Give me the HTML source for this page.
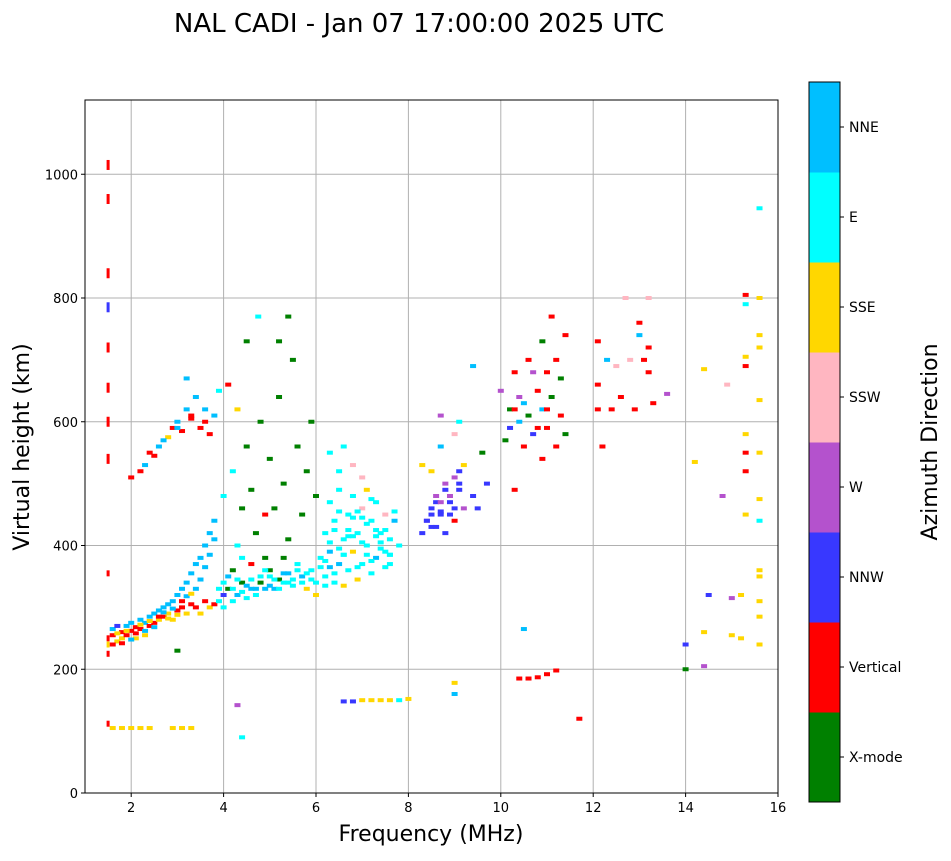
<!DOCTYPE html>
<html><head><meta charset="utf-8"><style>
body{margin:0;background:#fff;font-family:"Liberation Sans",sans-serif}
svg text{font-family:"DejaVu Sans","Liberation Sans",sans-serif}
</style></head><body>
<svg id="chart" width="951" height="856" xmlns="http://www.w3.org/2000/svg">
<text x="419" y="32" font-size="26" text-anchor="middle">NAL CADI - Jan 07 17:00:00 2025 UTC</text>
<g id="grid"></g>
<g id="marks"></g>
<rect x="85" y="100" width="693" height="693" fill="none" stroke="#000" stroke-width="1"/>
<g id="axes"></g>
<text x="431" y="841" font-size="22" text-anchor="middle">Frequency (MHz)</text>
<text transform="translate(29,447) rotate(-90)" font-size="22" text-anchor="middle">Virtual height (km)</text>
<g id="cbar"></g>
<text transform="translate(937,442) rotate(-90)" font-size="22" text-anchor="middle">Azimuth Direction</text>
</svg>
<script>
const xTicks=[2,4,6,8,10,12,14,16];
const yTicks=[0,200,400,600,800,1000];
const dirNames=["X-mode","Vertical","NNW","W","SSW","SSE","E","NNE"];
const dirColors=["#008000","#ff0000","#3838ff","#b452cd","#ffb6c1","#ffd700","#00ffff","#00bfff"];
const freqs=[1.5,1.5,1.6,1.6,1.7,1.7,1.8,1.8,1.9,1.9,2.0,2.0,2.1,2.1,2.2,2.2,2.3,2.3,2.4,2.4,2.5,2.5,2.6,2.6,2.7,2.7,2.8,2.8,2.9,2.9,3.0,3.0,3.1,3.1,3.2,3.2,3.3,3.3,3.4,3.4,3.5,3.5,3.6,3.6,3.7,3.7,3.8,3.8,3.9,4.0,4.0,4.1,4.2,4.3,4.4,4.5,4.6,4.7,4.8,4.9,5.0,5.1,5.2,5.3,5.4,5.5,5.6,5.7,5.8,5.9,6.0,6.0,6.1,
6.2,6.2,6.3,6.3,6.4,6.4,6.5,6.5,6.6,6.6,6.7,6.7,6.8,6.8,6.9,6.9,7.0,7.0,7.1,7.1,7.2,7.2,7.3,7.3,7.4,7.5,7.5,7.6,7.6,7.7,7.8,6.5,6.8,7.0,6.3,6.6,
2.0,2.2,2.3,2.5,2.6,2.8,2.9,3.0,3.1,3.2,3.3,3.4,3.5,3.6,3.7,3.8,3.9,4.1,3.2,
4.0,4.2,4.4,4.5,4.6,4.7,4.8,4.9,5.0,5.1,5.2,5.3,5.4,5.5,5.6,5.7,5.8,5.9,6.0,4.3,4.6,4.9,5.3,5.0,4.2,4.4,4.75,5.2,5.4,4.5,4.3,
8.3,8.4,8.5,8.6,8.6,8.7,8.8,8.8,8.9,9.0,9.0,9.1,9.2,9.2,8.5,8.7,8.7,9.0,8.3,9.4,9.5,9.7,9.6,9.1,9.4,
10.0,10.1,10.2,10.2,10.3,10.4,10.4,10.5,10.6,10.6,10.7,10.8,10.9,11.0,11.0,11.1,11.2,11.2,11.3,11.3,11.4,11.4,10.7,10.9,10.3,11.1,10.9,
12.1,12.1,12.1,12.2,12.3,12.4,12.5,12.6,12.7,12.8,12.9,13.0,13.0,13.1,13.2,13.2,13.2,13.3,13.6,
14.0,14.0,14.4,14.4,14.5,14.8,15.0,15.0,15.2,15.2,15.3,15.3,15.3,15.3,15.3,15.3,15.3,15.3,15.6,15.6,15.6,15.6,15.6,15.6,15.6,15.6,15.6,15.6,15.6,15.6,15.6,14.4,14.9,14.2,
1.5,1.5,1.5,1.5,1.5,1.5,1.5,1.5,1.5,1.5,1.5,1.6,1.8,2.0,2.2,2.4,2.9,3.1,3.3,3.0,4.3,4.4,6.6,6.8,7.0,7.2,7.4,7.6,7.8,8.0,9.0,9.0,10.4,10.6,10.8,11.0,11.2,10.5,11.7];
const heights=[250,240,265,255,245,270,260,250,270,255,262,275,250,268,280,265,255,275,285,270,290,275,295,280,300,285,305,290,310,280,320,295,330,300,340,290,355,305,370,300,290,380,310,400,300,420,305,440,310,320,300,330,310,320,340,315,330,320,340,330,350,330,345,340,355,335,370,350,330,360,340,320,380,
350,420,390,470,340,440,370,490,410,335,450,360,390,480,420,345,370,460,400,490,440,355,380,470,420,390,450,370,410,440,400,520,530,510,550,560,
510,520,530,545,560,575,590,600,585,620,605,640,590,620,580,610,650,660,670,
480,520,460,560,490,420,600,380,540,460,640,500,410,700,560,450,520,600,480,400,370,450,380,360,360,380,770,730,770,730,620,
420,440,460,430,480,450,500,420,470,440,510,490,530,460,520,560,610,580,530,480,460,500,550,600,690,
650,570,620,590,680,600,640,560,610,700,580,650,620,590,680,640,560,700,610,670,580,740,680,540,490,770,730,
730,660,620,560,700,620,690,640,800,700,620,760,740,700,720,800,680,630,645,
200,240,260,205,320,480,255,315,250,320,450,520,550,580,690,705,790,805,240,285,310,350,360,440,475,550,635,720,740,800,945,685,660,535,
1015,960,840,785,720,655,600,540,355,225,112,105,105,105,105,105,105,105,105,230,142,90,148,148,150,150,150,150,150,152,178,160,185,185,187,192,198,265,120];
const dirs=[1,5,7,1,5,2,1,5,7,1,1,7,5,1,7,1,5,7,7,1,7,1,7,5,7,1,7,5,7,5,7,1,7,1,7,5,7,1,7,1,5,7,1,7,5,7,1,7,6,2,6,0,6,7,0,6,7,6,0,7,6,7,0,6,7,6,6,7,5,6,6,5,6,
6,6,7,6,6,6,7,6,6,5,6,6,5,6,6,5,6,4,6,5,6,6,7,6,6,6,4,6,6,7,6,6,4,4,6,6,
1,1,7,1,7,5,1,7,1,7,1,7,1,7,1,7,6,1,7,
6,6,0,0,0,0,0,0,0,0,0,0,0,0,0,0,0,0,0,6,1,1,0,0,0,6,6,0,0,0,5,
2,3,2,2,3,2,3,2,2,1,3,2,5,3,5,7,3,4,5,2,2,2,0,6,7,
3,0,0,2,1,7,3,1,0,1,2,1,7,1,1,0,1,1,1,0,0,1,3,1,1,1,0,
1,1,1,1,7,1,4,1,4,4,1,1,7,1,1,4,1,1,3,
0,2,5,3,2,3,5,3,5,5,5,1,1,5,1,5,6,1,5,5,5,5,5,6,5,5,5,5,5,5,6,5,4,5,
1,1,1,2,1,1,1,1,1,1,1,5,5,5,5,5,5,5,5,0,3,6,2,2,5,5,5,5,6,5,5,7,1,1,1,1,1,7,1];
const extraFreqs=[1.6,1.7,1.8,1.9,2.0,2.1,2.2,2.3,2.4,2.5,2.6,2.7,2.8,2.9,3.0,3.1,3.2,3.3,3.4,3.5,3.6,3.7,3.8,3.9,4.0,4.1,4.2,4.3,4.4,4.5,4.6,4.7,4.8,4.9,5.0,5.1,5.2,5.3,5.4,5.5,5.6,5.7,5.8,5.9,
6.1,6.2,6.3,6.4,6.5,6.6,6.7,6.8,6.9,7.0,7.1,7.2,7.3,7.4,7.5,7.6,7.7,6.2,6.4,6.6,6.8,7.0,7.2,7.4,7.6,6.3,6.5,6.7,6.9,7.1,7.3,7.5,
8.4,8.5,8.6,8.7,8.8,8.9,9.0,9.1,8.5,8.7,8.9,9.1,10.3,10.5,10.8,11.0,2.4,2.7,3.0,3.3,3.6];
const extraHeights=[240,258,242,262,248,258,272,262,278,268,285,292,282,298,288,310,318,322,330,345,365,385,410,330,340,350,330,345,325,335,345,330,350,360,335,345,330,355,340,345,360,340,355,345,
365,375,405,425,455,385,415,445,365,405,435,475,415,395,425,385,455,335,355,385,415,445,375,405,385,365,395,425,455,385,425,365,
440,450,470,455,490,480,460,500,430,470,450,520,620,630,590,620,550,570,590,610,600];
const extraDirs=[1,5,1,5,7,1,5,7,5,7,1,7,5,7,5,1,7,5,7,7,7,7,7,6,6,7,6,6,6,7,6,7,6,6,7,6,6,7,6,6,6,6,6,6,
6,6,6,6,6,6,6,6,6,6,6,6,6,6,6,6,6,6,6,6,6,6,6,6,6,7,6,6,6,6,6,6,
2,2,2,2,2,3,2,2,2,3,2,2,1,7,1,1,1,7,7,1,1];
const NS="http://www.w3.org/2000/svg";
const X0=85,X1=778,Y0=793,Y1=100,FMIN=1,FMAX=16,HMIN=0,HMAX=1120;
function xs(f){return X0+(f-FMIN)/(FMAX-FMIN)*(X1-X0);}
function ys(h){return Y0-(h-HMIN)/(HMAX-HMIN)*(Y0-Y1);}
function mk(tag,attrs,parent){const e=document.createElementNS(NS,tag);for(const k in attrs)e.setAttribute(k,attrs[k]);parent.appendChild(e);return e;}
const grid=document.getElementById('grid'),axes=document.getElementById('axes'),marks=document.getElementById('marks'),cbar=document.getElementById('cbar');
xTicks.forEach(t=>{const x=xs(t);
 const g=mk('line',{x1:x,x2:x,y1:Y1,y2:Y0,stroke:'#b0b0b0','stroke-width':1},grid);
 
 
 const tk=mk('line',{x1:x,x2:x,y1:Y0,y2:Y0+4,stroke:'#000'},axes);
 
 
 const tx=mk('text',{x:x,y:Y0+19,'font-size':13,'text-anchor':'middle'},axes);tx.textContent=t;
 
 
});
yTicks.forEach(t=>{const y=ys(t);
 const g=mk('line',{x1:X0,x2:X1,y1:y,y2:y,stroke:'#b0b0b0','stroke-width':1},grid);
 
 
 const tk=mk('line',{x1:X0-4,x2:X0,y1:y,y2:y,stroke:'#000'},axes);
 
 
 const tx=mk('text',{x:X0-7,y:y+5,'font-size':13,'text-anchor':'end'},axes);tx.textContent=t;
 
 
});
function drawSet(F,H,D){
 for(let i=0;i<F.length;i++){
  const narrow=F[i]<1.55;
  const w=narrow?3:6,h=narrow?(H[i]>500?10:6):4;
  const r=mk('rect',{x:xs(F[i])-w/2,y:ys(H[i])-h/2,width:w,height:h,fill:dirColors[D[i]]},marks);
  
  
 }
}
drawSet(freqs,heights,dirs);
drawSet(extraFreqs,extraHeights,extraDirs);
const CX=809,CW=31,CT=82,CB=802,seg=(CB-CT)/dirNames.length;
dirNames.forEach((n,i)=>{const y=CB-(i+1)*seg;
 const r=mk('rect',{x:CX,y:y,width:CW,height:seg+0.5,fill:dirColors[i]},cbar);
 
 
 const tk=mk('line',{x1:CX+CW,x2:CX+CW+4,y1:y+seg/2,y2:y+seg/2,stroke:'#000'},cbar);
 
 
 const tx=mk('text',{x:CX+CW+9,y:y+seg/2+5,'font-size':14},cbar);tx.textContent=n;
 
 
});
const fr=mk('rect',{x:CX,y:CT,width:CW,height:CB-CT,fill:'none',stroke:'#000'},cbar);


</script>
</body></html>
